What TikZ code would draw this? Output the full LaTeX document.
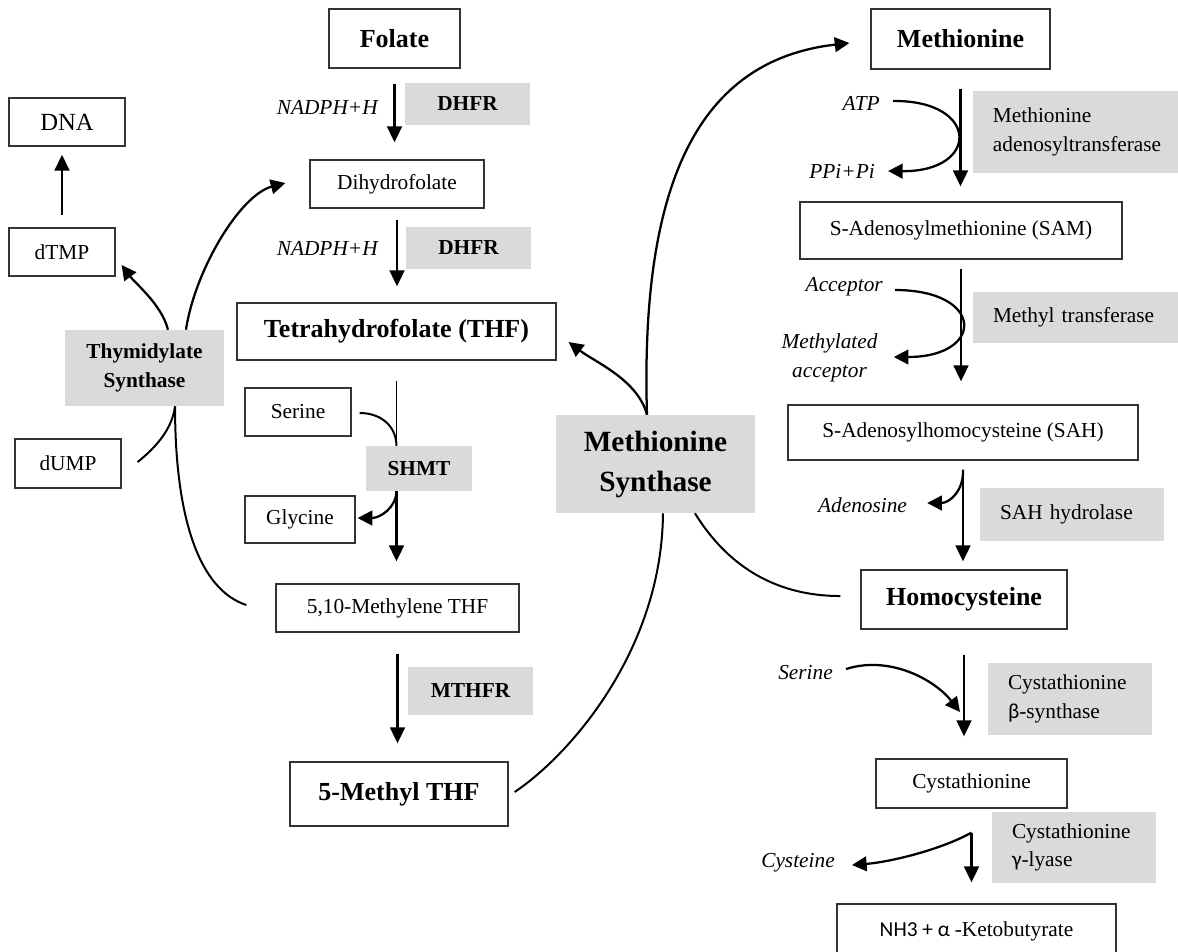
\documentclass[tikz,border=0pt]{standalone}
\usepackage{fontspec}
\setmainfont{Liberation Serif}
\setsansfont{Carlito}
\usetikzlibrary{arrows.meta}
\definecolor{enzgray}{HTML}{DADADC}

\begin{document}
\begin{tikzpicture}[x=0.75pt,y=-0.75pt]
 \tikzset{box/.style={draw=black!80, line width=0.9pt, inner sep=0pt, align=center, font=\fontsize{16}{21.5}\selectfont},
  big/.style={box, font=\fontsize{19.5}{24}\selectfont\bfseries},
  enz/.style={fill=enzgray, inner sep=0pt, align=center, font=\fontsize{16}{21.5}\selectfont\bfseries},
  enzl/.style={fill=enzgray, inner xsep=15pt, inner ysep=0pt, align=left, font=\fontsize{16}{21.5}\selectfont},
  lab/.style={inner sep=0pt, align=center, font=\fontsize{16}{21.5}\selectfont\itshape},
  directed/.style={line width=2pt, -{Triangle[length=12pt,width=11pt]}},
  side/.style={line width=1.7pt, -{Triangle[length=11pt,width=11pt]}},
  link/.style={line width=1.5pt}}
  \useasboundingbox (0,0) rectangle (1178,951);
  \node[big, minimum width=98.25pt, minimum height=44.25pt] (FOL) at (394.5,38.5) {Folate};
  \node[box, minimum width=130.5pt, minimum height=36pt] (DHF) at (397,184) {Dihydrofolate};
  \node[big, minimum width=239.25pt, minimum height=42.75pt] (THF) at (396.5,331.5) {Tetrahydrofolate (THF)};
  \node[box, minimum width=79.5pt, minimum height=36pt] (SER) at (298,412) {Serine};
  \node[box, minimum width=82.5pt, minimum height=35.25pt] (GLY) at (300,519.5) {Glycine};
  \node[box, minimum width=182.25pt, minimum height=36pt] (MLT) at (397.5,608) {5,10-Methylene THF};
  \node[big, minimum width=163.5pt, minimum height=48pt] (MTF) at (399,794) {5-Methyl THF};
  \node[box, font=\fontsize{18.5}{22}\selectfont, minimum width=87pt, minimum height=36pt] (DNA) at (67,122) {DNA};
  \node[box, minimum width=79.5pt, minimum height=36pt] (TMP) at (62,252) {dTMP};
  \node[box, minimum width=79.5pt, minimum height=36.75pt] (UMP) at (68,463.5) {dUMP};
  \node[big, minimum width=134.25pt, minimum height=45pt] (MET) at (960.5,39) {Methionine};
  \node[box, minimum width=241.5pt, minimum height=42.75pt] (SAM) at (961,230.5) {S-Adenosylmethionine (SAM)};
  \node[box, minimum width=262.5pt, minimum height=41.25pt] (SAH) at (963,432.5) {S-Adenosylhomocysteine (SAH)};
  \node[big, minimum width=154.5pt, minimum height=44.25pt] (HCY) at (964,599.5) {Homocysteine};
  \node[box, minimum width=143.25pt, minimum height=36.75pt] (CTH) at (971.5,783.5) {Cystathionine};
  \node[box, minimum width=209.25pt, minimum height=40.5pt] (KBT) at (976.5,931) {{\sffamily NH3 + α }-Ketobutyrate};
  \node[enz, minimum width=93.75pt, minimum height=31.5pt] (E1) at (467.5,104) {DHFR};
  \node[enz, minimum width=93.75pt, minimum height=31.5pt] (E2) at (468.5,248) {DHFR};
  \node[enz, minimum width=79.5pt, minimum height=33.75pt] (E3) at (419,468.5) {SHMT};
  \node[enz, minimum width=93.75pt, minimum height=36pt] (E4) at (470.5,691) {MTHFR};
  \node[enz, minimum width=119.25pt, minimum height=57pt] (E5) at (144.5,368) {Thymidylate\\Synthase};
  \node[enz, font=\fontsize{22}{30}\selectfont\bfseries, minimum width=149.25pt, minimum height=73.5pt] (E6) at (655.5,464) {Methionine\\Synthase};
  \node[enzl, text width=128pt, minimum height=61.5pt] (E7) at (1078.3,132) {Methionine\\adenosyltransferase};
  \node[enzl, text width=123.75pt, minimum height=38.25pt] (E8) at (1075.5,317.5) {Methyl transferase};
  \node[enzl, text width=108pt, minimum height=39.75pt] (E9) at (1072,514.5) {SAH hydrolase};
  \node[enzl, text width=93pt, minimum height=54pt] (E10) at (1070,699) {Cystathionine\\{\sffamily β}-synthase};
  \node[enzl, text width=93pt, minimum height=53.25pt] (E11) at (1074,847.5) {Cystathionine\\{\sffamily γ}-lyase};
  \node[lab, anchor=east] (L1) at (378,107) {NADPH+H};
  \node[lab, anchor=east] (L2) at (378,248) {NADPH+H};
  \node[lab, anchor=east] (L3) at (880,103) {ATP};
  \node[lab, anchor=east] (L4) at (875,171) {PPi+Pi};
  \node[lab, anchor=east] (L5) at (883,287) {Acceptor};
  \node[lab] (L6) at (829.5,358) {Methylated\\acceptor};
  \node[lab] (L7) at (862.5,505) {Adenosine};
  \node[lab] (L8) at (805.5,673) {Serine};
  \node[lab] (L9) at (798,863) {Cysteine};
  \coordinate (C1) at (960,712);
  \draw[directed, shorten <=11.25pt, shorten >=12.75pt] (FOL.south) -- (FOL.south |- DHF.north);
  \draw[directed, shorten <=8.25pt, shorten >=12pt] (DHF.south) -- (DHF.south |- THF.north);
  \draw[line width=1pt, shorten <=15pt] (THF.south) -- (THF.south |- E3.north);
  \draw[directed, shorten >=16.5pt] (THF.south |- E3.south) -- (THF.south |- MLT.north);
  \draw[directed, shorten <=15.75pt, shorten >=13.5pt] (MLT.south) -- (MLT.south |- MTF.north);
  \draw[directed, shorten <=9pt, shorten >=6pt] (TMP.north) -- (TMP.north |- DNA.south);
  \draw[directed, shorten <=14.25pt, shorten >=11.25pt] (MET.south) -- (MET.south |- SAM.north);
  \draw[directed, shorten <=6.75pt, shorten >=17.25pt] (SAM.south) -- (SAM.south |- SAH.north);
  \draw[directed, shorten <=6.75pt, shorten >=6pt] (SAH.south) -- (SAH.south |- HCY.north);
  \draw[directed, shorten <=18.75pt, shorten >=16.5pt] (HCY.south) -- (HCY.south |- CTH.north);
  \draw[directed, shorten <=18pt, shorten >=15.75pt] (CTH.south) -- (CTH.south |- KBT.north);
  \draw[side] ([xshift=-6.4pt]E6.north) .. controls (640,180) and (700,60) .. ([xshift=-15.75pt,yshift=-3pt]MET.west);
  \draw[side] ([xshift=-6.4pt]E6.north) .. controls (638,380) and (595,362) .. ([xshift=9pt,yshift=-7.9pt]THF.east);
  \draw[link] ([xshift=29.6pt]E6.south) .. controls (730,570) and (780,596) .. ([xshift=-15pt,yshift=2.6pt]HCY.west);
  \draw[link] ([xshift=4.5pt,yshift=1.5pt]MTF.east) .. controls (570,755) and (662,650) .. ([xshift=5.6pt]E6.south);
  \draw[side] ([xshift=17.6pt]E5.north) .. controls (162,305) and (135,283) .. ([xshift=4.5pt,yshift=-9.75pt]TMP.east);
  \draw[side] ([xshift=31.1pt]E5.north) .. controls (195,270) and (240,195) .. ([xshift=-18pt,yshift=0.75pt]DHF.west);
  \draw[link] ([xshift=12pt,yshift=1.1pt]UMP.east) .. controls (155,448) and (172,430) .. ([xshift=22.9pt]E5.south);
  \draw[link] ([xshift=-21.75pt,yshift=2.25pt]MLT.west) .. controls (200,590) and (175,520) .. ([xshift=22.9pt]E5.south);
  \draw[link] ([xshift=6pt,yshift=-0.75pt]SER.east) .. controls (380,413) and (396,425) .. (THF.south |- E3.north);
  \draw[side] (THF.south |- E3.south) .. controls (396,508) and (380,518) .. ([xshift=1.5pt,yshift=1.1pt]GLY.east);
  \draw[side] ([xshift=9.75pt,yshift=1.5pt]L3.east) .. controls (980,100) and (980,172) .. ([xshift=9.75pt]L4.east);
  \draw[side] ([xshift=9pt,yshift=-2.25pt]L5.east) .. controls (985,290) and (985,357) .. ([xshift=12pt,yshift=0.75pt]L6.east);
  \draw[side] ([yshift=-6.75pt]SAH.south) .. controls (964,490) and (950,503) .. ([xshift=15pt,yshift=1.5pt]L7.east);
  \draw[side] ([xshift=9.75pt,yshift=3pt]L8.east) .. controls (890,655) and (935,680) .. (C1);
  \draw[side] ([yshift=-18pt]CTH.south) .. controls (940,850) and (890,862) .. ([xshift=12.75pt,yshift=-1.5pt]L9.east);
\end{tikzpicture}
\end{document}
